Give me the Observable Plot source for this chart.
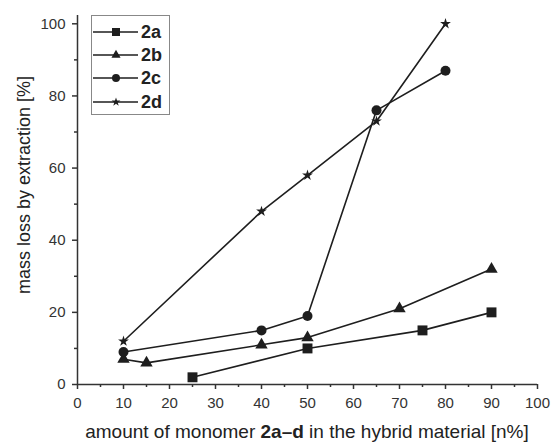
<!DOCTYPE html>
<html><head><meta charset="utf-8">
<script src="https://cdn.jsdelivr.net/npm/d3@7"></script>
<script src="https://cdn.jsdelivr.net/npm/@observablehq/plot@0.6"></script>
<style>
body{margin:0;background:#fff;}
#wrap{position:relative;width:551px;height:444px;font-family:"Liberation Sans",Arial,sans-serif;color:#222;}
#ylab{position:absolute;left:24px;top:185px;transform:translate(-50%,-50%) rotate(-90deg);white-space:nowrap;font-size:18px;}
#xlab{position:absolute;left:307px;top:432px;transform:translate(-50%,-50%);white-space:nowrap;font-size:19px;}
#legend{position:absolute;left:91px;top:15px;width:79px;height:100px;border:1px solid #888;box-sizing:border-box;background:#fff;}
.lrow{position:absolute;left:0;height:20px;}
.lrow span{position:absolute;left:49px;top:0;font-weight:bold;font-size:18px;line-height:20px;}
</style></head>
<body><div id="wrap"></div>
<script>
const seriesNames = ["2a","2b","2c","2d"];
const symbols = ["square","triangle","circle","star"];
const x2a = [25,50,75,90];        const y2a = [2,10,15,20];
const x2b = [10,15,40,50,70,90];  const y2b = [7,6,11,13,21,32];
const x2c = [10,40,50,65,80];     const y2c = [9,15,19,76,87];
const x2d = [10,40,50,65,80];     const y2d = [12,48,58,73,100];
const xMajor = d3.range(0,101,10);
const xMinor = d3.range(5,100,10);
const yMajor = d3.range(0,101,20);
const yMinor = d3.range(10,100,20);
const xLabelPre = "amount of monomer ", xLabelBold = "2a–d", xLabelPost = " in the hybrid material [n%]";
const yLabel = "mass loss by extraction [%]";

const xs = [x2a,x2b,x2c,x2d], ys = [y2a,y2b,y2c,y2d];
const data = [];
seriesNames.forEach((s,i)=>xs[i].forEach((v,j)=>data.push({s, sym:symbols[i], x:v, y:ys[i][j]})));

const ink = "#1e1e1e";
const symR = {square:5.6, triangle:4.6, circle:5, star:3.4};
const legendSize = {square:64, triangle:36, circle:50, star:24};
const chart = Plot.plot({
  width:551, height:444,
  marginLeft:77, marginRight:14, marginTop:15, marginBottom:60,
  x:{domain:[0,100]}, y:{domain:[0,102.3]},
  symbol:{domain:seriesNames, range:symbols},
  style:{fontFamily:'"Liberation Sans",Arial,sans-serif', fontSize:"15px", color:"#333", background:"#fff"},
  marks:[
    Plot.axisX({ticks:xMajor, tickSize:5, tickPadding:8, label:null, stroke:"#333", strokeWidth:1.5, fontSize:15}),
    Plot.axisX({ticks:xMinor, tickSize:3, tickFormat:()=>"", label:null, stroke:"#333", strokeWidth:1.5}),
    Plot.axisY({ticks:yMajor, tickSize:5, tickPadding:7, label:null, stroke:"#333", strokeWidth:1.5, fontSize:15}),
    Plot.axisY({ticks:yMinor, tickSize:3, tickFormat:()=>"", label:null, stroke:"#333", strokeWidth:1.5}),
    Plot.ruleX([0],{stroke:"#333", strokeWidth:1.5}),
    Plot.ruleY([0],{stroke:"#333", strokeWidth:1.5}),
    Plot.line(data,{x:"x", y:"y", z:"s", stroke:ink, strokeWidth:1.6}),
    ...symbols.map(sym => Plot.dot(data.filter(d=>d.sym===sym),{x:"x", y:"y", symbol:"s", r:symR[sym], fill:ink, stroke:"none"}))
  ]
});
const wrap = document.getElementById("wrap");
wrap.appendChild(chart);
const yl = document.createElement("div"); yl.id="ylab"; yl.textContent=yLabel; wrap.appendChild(yl);
const xl = document.createElement("div"); xl.id="xlab";
xl.append(xLabelPre); const b=document.createElement("b"); b.textContent=xLabelBold; xl.append(b); xl.append(xLabelPost);
wrap.appendChild(xl);
const lg = document.createElement("div"); lg.id="legend"; wrap.appendChild(lg);
const symMap = {square:d3.symbolSquare, triangle:d3.symbolTriangle, circle:d3.symbolCircle, star:d3.symbolStar};
seriesNames.forEach((s,i)=>{
  const row = document.createElement("div"); row.className="lrow"; row.style.top=(5.7+i*23.3)+"px";
  const svg = d3.create("svg").attr("width",48).attr("height",20).style("position","absolute").style("left","0").style("top","0");
  svg.append("line").attr("x1",1).attr("x2",46).attr("y1",10).attr("y2",10).attr("stroke",ink).attr("stroke-width",1.6);
  svg.append("path").attr("transform","translate(24,10)").attr("d",d3.symbol(symMap[symbols[i]], legendSize[symbols[i]])()).attr("fill",ink);
  row.appendChild(svg.node());
  const t=document.createElement("span"); t.textContent=s; row.appendChild(t);
  lg.appendChild(row);
});
</script></body></html>
